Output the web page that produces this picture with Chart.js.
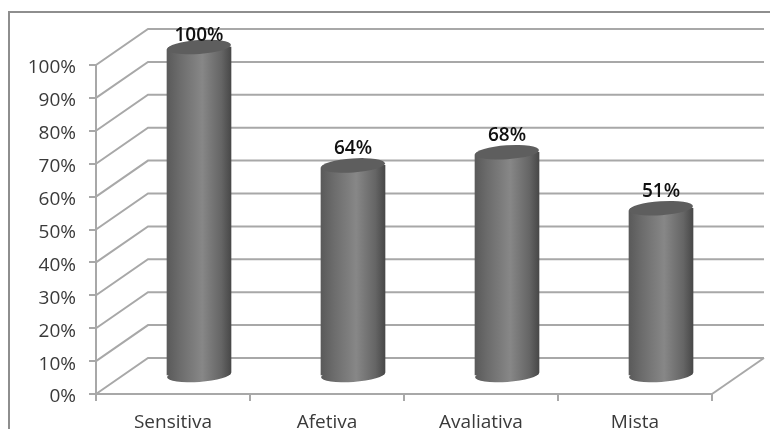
<!DOCTYPE html>
<html>
<head>
<meta charset="utf-8">
<style>
    html, body { margin: 0; padding: 0; background: #fff; }
    canvas { display: block; }
</style>
<script src="https://cdn.jsdelivr.net/npm/chart.js@4"></script>
</head>
<body>
<canvas id="painChart" width="770" height="429"></canvas>
<script>
const categories = ['Sensitiva', 'Afetiva', 'Avaliativa', 'Mista'];
const percentValues = [100, 64, 68, 51];
const tickStep = 10;
const tickMax = 100;

const LINE_GRAY = '#a8a8a8';
const DEPTH_X = 52;   // how far the back wall sits from the front axis
const DEPTH_Y = -36;
const BAR_WIDTH = 64;
const CAP_HEIGHT = 7;
const CAP_TILT = -0.07;

// horizontal shading of a cylinder body, built around the bar's own centre
function cylinderGradient(ctx, centerX) {
    const left = centerX - BAR_WIDTH / 2;
    const g = ctx.createLinearGradient(left, 0, left + BAR_WIDTH, 0);
    g.addColorStop(0, '#5a5a5a');
    g.addColorStop(0.2, '#6c6c6c');
    g.addColorStop(0.55, '#878787');
    g.addColorStop(0.85, '#656565');
    g.addColorStop(1, '#484848');
    return g;
}

function capPath(ctx, x, y, start, end) {
    ctx.ellipse(x, y, BAR_WIDTH / 2, CAP_HEIGHT, CAP_TILT, start, end);
}

// frame, back wall lines and floor edge, all hanging off the real scales
const wallPlugin = {
    id: 'wall',
    beforeDatasetsDraw(chart) {
        const { ctx, scales: { x, y } } = chart;
        const left = x.left, right = x.right;
        ctx.save();

        ctx.strokeStyle = '#8e8e8e';
        ctx.lineWidth = 2;
        ctx.beginPath();
        ctx.moveTo(9, chart.height);
        ctx.lineTo(9, 12);
        ctx.lineTo(chart.width, 12);
        ctx.stroke();

        ctx.strokeStyle = LINE_GRAY;
        y.ticks.forEach(t => {
            const py = y.getPixelForValue(t.value);
            ctx.beginPath();
            ctx.moveTo(left, py);
            ctx.lineTo(left + DEPTH_X, py + DEPTH_Y);
            ctx.lineTo(right + DEPTH_X, py + DEPTH_Y);
            ctx.stroke();
        });
        const floorY = y.getPixelForValue(0);
        ctx.beginPath();
        ctx.moveTo(right, floorY);
        ctx.lineTo(right + DEPTH_X, floorY + DEPTH_Y);
        ctx.stroke();
        ctx.restore();
    }
};

// bars are pushed to mid depth and clipped between two tilted ellipses so they read as cylinders
const cylinderPlugin = {
    id: 'cylinder',
    beforeDatasetDraw(chart, args) {
        const { ctx } = chart;
        const r = BAR_WIDTH / 2 + 2;
        ctx.save();
        ctx.translate(DEPTH_X / 2, DEPTH_Y / 2);
        ctx.beginPath();
        args.meta.data.forEach(bar => {
            capPath(ctx, bar.x, bar.y, Math.PI, Math.PI * 2);
            ctx.lineTo(bar.x + r, bar.y - 2);
            ctx.lineTo(bar.x + r, bar.base - 2);
            capPath(ctx, bar.x, bar.base, 0, Math.PI);
            ctx.lineTo(bar.x - r, bar.base + 2);
            ctx.lineTo(bar.x - r, bar.y + 2);
            ctx.closePath();
        });
        ctx.clip();
    },
    afterDatasetDraw(chart, args) {
        const { ctx } = chart;
        ctx.restore();
        ctx.save();
        ctx.translate(DEPTH_X / 2, DEPTH_Y / 2);
        args.meta.data.forEach(bar => {
            ctx.fillStyle = cylinderGradient(ctx, bar.x);
            ctx.beginPath();
            capPath(ctx, bar.x, bar.base, 0, Math.PI * 2);
            ctx.fill();

            ctx.fillStyle = '#5e5e5e';
            ctx.beginPath();
            capPath(ctx, bar.x, bar.y, 0, Math.PI * 2);
            ctx.fill();
        });
        ctx.restore();
    },
    afterDatasetsDraw(chart) {
        const { ctx } = chart;
        const bars = chart.getDatasetMeta(0).data;
        ctx.save();
        ctx.font = '600 19px "Open Sans"';
        ctx.fillStyle = '#111';
        ctx.textAlign = 'center';
        ctx.textBaseline = 'middle';
        bars.forEach((bar, i) => {
            const labelY = Math.max(bar.y + DEPTH_Y / 2 - 17, 36);
            ctx.fillText(percentValues[i] + '%', bar.x + DEPTH_X / 2, labelY);
        });
        ctx.restore();
    }
};

const ctx = document.getElementById('painChart').getContext('2d');
const myChart = new Chart(ctx, {
    type: 'bar',
    data: {
        labels: categories,
        datasets: [{
            data: percentValues,
            barThickness: BAR_WIDTH,
            clip: false,
            backgroundColor: c => {
                if (!c.chart.chartArea) return '#666';
                return cylinderGradient(c.chart.ctx, c.chart.scales.x.getPixelForValue(c.dataIndex));
            }
        }]
    },
    options: {
        responsive: false,
        animation: false,
        layout: { padding: { top: 65, right: 58 } },
        plugins: {
            legend: { display: false },
            tooltip: { enabled: false }
        },
        scales: {
            x: {
                afterFit: s => { s.height = 35; },
                border: { color: LINE_GRAY, width: 2 },
                grid: { offset: true, drawOnChartArea: false, color: LINE_GRAY, lineWidth: 2, tickLength: 7 },
                ticks: { color: '#3a3a3a', font: { family: '"Open Sans"', size: 19 }, padding: 10, maxRotation: 0 }
            },
            y: {
                min: 0,
                max: tickMax,
                afterFit: s => { s.width = 96; },
                border: { color: LINE_GRAY, width: 2 },
                grid: { drawOnChartArea: false, color: LINE_GRAY, lineWidth: 2, tickLength: 7 },
                ticks: {
                    stepSize: tickStep,
                    color: '#3a3a3a',
                    font: { family: '"Open Sans"', size: 19 },
                    padding: 13,
                    labelOffset: 3,
                    callback: v => v + '%'
                }
            }
        }
    },
    plugins: [wallPlugin, cylinderPlugin]
});
</script>
</body>
</html>
